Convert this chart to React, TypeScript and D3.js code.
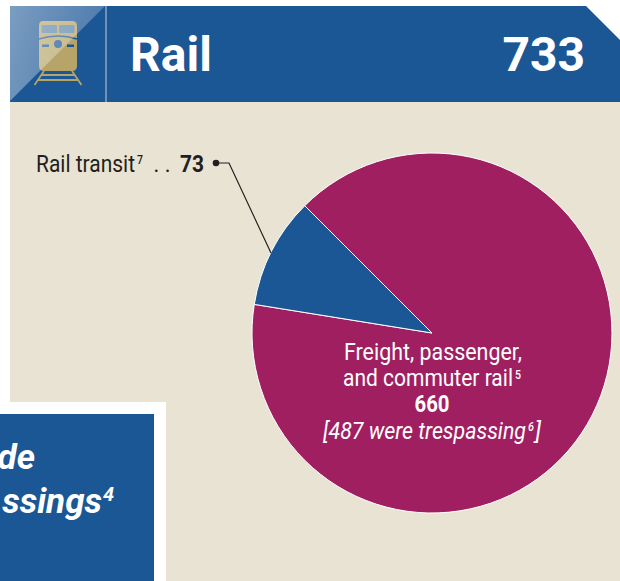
import React from "react";
import * as d3 from "d3";

const categories = ["Freight, passenger, and commuter rail", "Rail transit"];
const values = [660, 73];
const sliceColors = ["#a01f61", "#1b5695"];
const headerTitle = "Rail";
const headerTotal = "733";
const BLUE = "#1b5695";
const BEIGE = "#e9e3d3";
const COND = "Roboto, sans-serif";
const BODY = 24;

function Cond({ x, y, w, size = BODY, anchor = "middle", fill = "#fff", weight = 400, italic = false, children }: any) {
  return (
    <text x={x} y={y} textAnchor={anchor} fontFamily={COND} fontSize={size} fill={fill} fontWeight={weight}
      fontStyle={italic ? "italic" : "normal"} textLength={w} lengthAdjust="spacingAndGlyphs">
      {children}
    </text>
  );
}

export default function App() {
  const cx = 432, cy = 333, r = 180;
  const start = -Math.PI / 4;
  const pie = d3.pie<number>().sort(null).startAngle(start).endAngle(start + 2 * Math.PI);
  const arcs = pie(values);
  const arc = d3.arc<d3.PieArcDatum<number>>().innerRadius(0).outerRadius(r);
  const leader = d3.line()([[214, 163], [229, 163], [271, 253]]) as string;

  return (
    <svg width={620} height={581} viewBox="0 0 620 581" style={{ position: "fixed", left: 0, top: 0, display: "block", background: "#fff" }}>
      <defs>
        <linearGradient id="sheen" x1="0" y1="0" x2="1" y2="0.3">
          <stop offset="0" stopColor="#fff" stopOpacity={0.42} />
          <stop offset="1" stopColor="#fff" stopOpacity={0.22} />
        </linearGradient>
      </defs>
      <rect x={10} y={102} width={610} height={479} fill={BEIGE} />
      <path d="M10 6H586L620 40V102H10Z" fill={BLUE} />
      {/* locomotive icon */}
      <g>
        <path d="M43 21H72Q77 21 77 26V66Q77 71 72 71H44Q39 71 39 66V26Q39 21 43 21Z" fill="#b6a468" />
        <path d="M42 25.500H56.500V32.500H42ZM59.500 25.500H74V32.500H59.500Z" fill="#5d86ab" stroke="#5d86ab" strokeWidth={1} />
        <path d="M39 39Q58 33 77 39" fill="none" stroke={BLUE} strokeWidth={1.500} />
        <circle cx={58} cy={44} r={4} fill={BLUE} />
        <rect x={42} y={44.500} width={7} height={2.500} fill={BLUE} />
        <rect x={67} y={44.500} width={7} height={2.500} fill={BLUE} />
        <path d="M44 71L34.500 85M72 71L81.500 85M42 75H74M38 80H78" stroke="#b6a468" strokeWidth={1.800} fill="none" />
      </g>
      <path d="M10 6H105L10 101Z" fill="url(#sheen)" />
      <rect x={105} y={6} width={2} height={96} fill="#6f92bb" />
      <text x={130} y={71} fontFamily="Roboto, sans-serif" fontWeight={700} fontSize={48} fill="#fff">{headerTitle}</text>
      <text x={585} y={71} textAnchor="end" fontFamily="Roboto, sans-serif" fontWeight={700} fontSize={48} fill="#fff">{headerTotal}</text>

      {arcs.map((a, i) => (
        <path key={categories[i]} transform={`translate(${cx},${cy})`} d={arc(a) as string} fill={sliceColors[i]} stroke="#fff" strokeWidth={1} />
      ))}

      <path d={leader} fill="none" stroke="#231f20" strokeWidth={1.200} />
      <circle cx={216} cy={163} r={3.300} fill="#231f20" />
      <Cond x={36} y={172} w={99} anchor="start" fill="#231f20">Rail transit</Cond>
      <Cond x={137} y={164} w={6} size={13} anchor="start" fill="#231f20" weight={500}>7</Cond>
      <Cond x={153.500} y={172} w={17} anchor="start" fill="#231f20">. .</Cond>
      <Cond x={180} y={172} w={24} anchor="start" fill="#231f20" weight={700}>{values[1]}</Cond>

      <Cond x={433} y={360} w={178}>Freight, passenger,</Cond>
      <Cond x={428} y={385.500} w={170}>and commuter rail</Cond>
      <Cond x={515} y={378.500} w={6} size={13} anchor="start" weight={500}>5</Cond>
      <Cond x={432} y={412} w={35} weight={700}>{values[0]}</Cond>
      <Cond x={323} y={439} w={203} anchor="start" italic>[487 were trespassing</Cond>
      <Cond x={528} y={431} w={6} size={13} anchor="start" italic weight={500}>6</Cond>
      <Cond x={535} y={439} w={6} anchor="start" italic>]</Cond>

      <rect x={0} y={402} width={166} height={179} fill="#fff" />
      <rect x={0} y={414} width={154} height={167} fill={BLUE} />
      <text x={35} y={469} textAnchor="end" fontFamily="Roboto, sans-serif" fontWeight={700} fontStyle="italic" fontSize={35} fill="#fff">de</text>
      <text x={102} y={513} textAnchor="end" fontFamily="Roboto, sans-serif" fontWeight={700} fontStyle="italic" fontSize={35} fill="#fff">ssings</text>
      <text x={103} y={501} fontFamily="Roboto, sans-serif" fontWeight={700} fontStyle="italic" fontSize={20} fill="#fff">4</text>
    </svg>
  );
}
